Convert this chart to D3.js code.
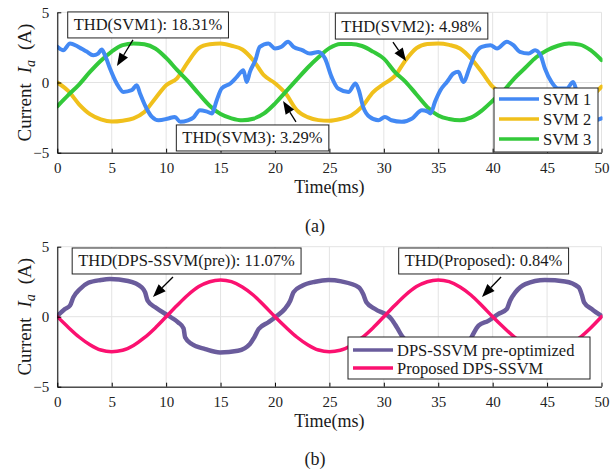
<!DOCTYPE html>
<html><head><meta charset="utf-8">
<script src="https://cdn.jsdelivr.net/npm/d3@7"></script>
<style>
body{margin:0;background:#fff;}
text{font-family:"Liberation Serif","Times New Roman",serif;fill:#1a1a1a;}
</style></head>
<body>
<script>
// ---------------- DATA ----------------
const xTicks = [0,5,10,15,20,25,30,35,40,45,50];
const yTicks = [-5,0,5];
const xLabel = "Time(ms)";

// (a) SVM 1 (distorted) : time (ms) and current (A)
const timeSVM1 = [0,0.55,1.17,1.8,2.24,2.7,3.3,3.75,4.08,4.38,4.84,5.46,6.07,6.84,7.3,7.6,8.2,8.7,9.3,10.2,10.8,11.3,12.0,12.5,13.1,13.7,14.2,14.65,15.1,15.9,16.5,17.1,17.4,17.7,18.2,18.6,19.4,20.0,20.6,21.2,21.7,22.5,23.2,24.0,24.6,25.2,25.8,26.75,27.4,27.7,28.1,28.7,29.5,30.1,30.7,31.65,32.6,33.5,34.0,34.3,34.7,35.2,35.8,36.4,36.85,37.3,37.9,38.4,39.0,39.8,40.4,41.3,41.9,42.5,43.3,43.9,44.4,44.8,45.4,46.0,46.8,47.4,47.7,48.2,48.8,49.4,50];
const curSVM1 = [2.55,2.3,2.78,2.6,2.4,2.2,1.94,2.06,2.35,1.94,1.0,-0.07,-0.67,-0.55,-0.19,-0.78,-1.85,-2.45,-2.69,-2.56,-2.45,-2.8,-2.69,-2.5,-1.97,-2.06,-2.2,-1.26,-0.43,-0.07,0.4,0.88,0.04,0.76,1.59,2.54,2.78,2.42,2.54,2.9,2.54,2.3,2.06,2.18,1.71,0.4,-0.43,-0.67,-0.07,-0.55,-1.73,-2.45,-2.69,-2.45,-2.69,-2.8,-2.56,-1.97,-2.06,-2.2,-1.38,-0.55,0.04,0.64,0.76,0.04,1.11,2.06,2.54,2.66,2.42,2.9,2.66,2.18,2.06,2.3,1.94,1.0,0.04,-0.43,-0.43,0.04,-0.6,-1.8,-2.45,-2.7,-2.56];

// (a) SVM 2 and SVM 3 sampled every 1 ms
const timeSVM23 = [0,1,2,3,4,5,6,7,8,9,10,11,12,13,14,15,16,17,18,19,20,21,22,23,24,25,26,27,28,29,30,31,32,33,34,35,36,37,38,39,40,41,42,43,44,45,46,47,48,49,50];
const curSVM2 = [0.0,-0.6,-1.55,-2.25,-2.62,-2.78,-2.72,-2.55,-2.1,-1.14,-0.2,0.3,1.45,2.45,2.72,2.78,2.62,2.35,1.59,0.5,-0.05,-0.8,-1.97,-2.47,-2.68,-2.72,-2.6,-2.35,-1.72,-0.7,-0.1,0.45,1.59,2.45,2.75,2.78,2.68,2.42,1.72,0.75,-0.3,-0.85,-1.95,-2.45,-2.68,-2.75,-2.65,-2.45,-1.95,-1.1,-0.3];
const curSVM3 = [-1.7,-0.9,-0.15,0.75,1.55,2.2,2.66,2.78,2.72,2.42,1.75,0.9,0.1,-0.8,-1.65,-2.25,-2.55,-2.69,-2.58,-2.2,-1.5,-0.65,0.2,1.05,1.8,2.45,2.75,2.75,2.6,2.2,1.7,0.76,0.05,-0.85,-1.75,-2.35,-2.6,-2.69,-2.5,-2.0,-1.3,-0.6,0.3,1.05,1.8,2.3,2.62,2.78,2.7,2.3,1.6];

// (b) DPS-SSVM pre-optimized
const timePre = [0,0.7,1.17,1.47,2.09,2.85,4.0,4.84,6.5,7.76,8.06,8.3,9.0,10.2,11.1,11.6,11.74,12.35,13.6,14.95,16.6,17.7,18.1,18.5,19.4,20.2,20.9,21.4,21.7,22.5,23.7,24.9,26.1,27.7,28.1,28.4,29.2,30.7,31.2,31.7,32.4,33.6,35.0,36.6,37.7,38.1,38.7,39.6,40.5,41.3,41.6,42.1,43.0,44.8,46.65,47.9,48.2,48.4,49.1,50];
const curPre = [0.05,0.55,0.8,1.38,1.98,2.42,2.62,2.69,2.55,2.1,1.75,1.14,0.67,0.07,-0.4,-0.83,-1.47,-1.95,-2.31,-2.55,-2.43,-1.95,-1.47,-0.88,-0.4,0.07,0.55,1.14,1.75,2.21,2.5,2.62,2.52,2.1,1.62,1.03,0.55,-0.17,-0.76,-1.42,-1.95,-2.31,-2.55,-2.43,-1.95,-1.4,-0.64,-0.3,0.19,0.55,1.14,1.75,2.33,2.62,2.52,2.1,1.55,1.03,0.55,0.05];

// (b) Proposed DPS-SSVM, every 1 ms
const timeProp = [0,1,2,3,4,5,6,7,8,9,10,11,12,13,14,15,16,17,18,19,20,21,22,23,24,25,26,27,28,29,30,31,32,33,34,35,36,37,38,39,40,41,42,43,44,45,46,47,48,49,50];
const curProp = [0,-0.75,-1.45,-2.0,-2.38,-2.5,-2.4,-2.05,-1.5,-0.8,0.0,0.8,1.55,2.15,2.5,2.62,2.5,2.12,1.55,0.8,0.0,-0.75,-1.45,-2.0,-2.38,-2.5,-2.4,-2.05,-1.5,-0.8,0.0,0.8,1.55,2.15,2.5,2.62,2.5,2.12,1.55,0.8,0.0,-0.75,-1.45,-2.0,-2.38,-2.5,-2.4,-2.05,-1.5,-0.8,0.0];

const seriesA = ["SVM 1","SVM 2","SVM 3"];
const seriesB = ["DPS-SSVM pre-optimized","Proposed DPS-SSVM"];

// annotation texts with box centre / arrow tail / arrow head in data units
const annA = [
  {text:"THD(SVM1): 18.31%", bx:8.33, by:4.10, tx:6.95, ty:3.03, hx:5.48, hy:1.17},
  {text:"THD(SVM2): 4.98%",  bx:32.54, by:4.02, tx:30.84, ty:2.88, hx:32.04, hy:1.53},
  {text:"THD(SVM3): 3.29%",  bx:17.93, by:-3.95, tx:21.93, ty:-2.81, hx:20.74, hy:-1.32}
];
const annB = [
  {text:"THD(DPS-SSVM(pre)): 11.07%", bx:11.87, by:3.98, tx:10.63, ty:2.84, hx:8.79, hy:1.41},
  {text:"THD(Proposed): 0.84%",       bx:39.16, by:3.98, tx:40.77, ty:2.84, hx:39.02, hy:1.41}
];

// ---------------- DRAW ----------------
const W = 610, H = 471;
const FONT = '"Liberation Serif","Times New Roman",serif';
const svg = d3.select("body").append("svg").attr("width",W).attr("height",H);

const colors = {
  "SVM 1":"#4389f4", "SVM 2":"#f0c01c", "SVM 3":"#33c93a",
  "DPS-SSVM pre-optimized":"#6a5c9c", "Proposed DPS-SSVM":"#fb1170"
};

function panel(top, bottom, lines, anns, legend, subLabel, subY){
  const x = d3.scaleLinear().domain([0,50]).range([57.3,601.5]);
  const y = d3.scaleLinear().domain([-5,5]).range([bottom,top]);
  const g = svg.append("g");

  // grid
  g.append("g").selectAll("line").data(xTicks).join("line")
    .attr("x1",d=>x(d)).attr("x2",d=>x(d)).attr("y1",top).attr("y2",bottom)
    .attr("stroke","#e3e3e3").attr("stroke-width",1);
  g.append("g").selectAll("line").data(yTicks).join("line")
    .attr("x1",x(0)).attr("x2",x(50)).attr("y1",d=>y(d)).attr("y2",d=>y(d))
    .attr("stroke","#e3e3e3").attr("stroke-width",1);

  // lines
  const clipId = "clip"+Math.round(top);
  svg.append("clipPath").attr("id",clipId).append("rect")
    .attr("x",x(0)).attr("y",top).attr("width",x(50)-x(0)+1).attr("height",bottom-top);
  const lg = g.append("g").attr("clip-path",`url(#${clipId})`);
  lines.forEach(s=>{
    const pts = s.t.map((t,i)=>[t,s.v[i]]);
    lg.append("path").datum(pts)
      .attr("fill","none").attr("stroke",s.color).attr("stroke-width",s.w)
      .attr("stroke-linejoin","round").attr("stroke-linecap","round")
      .attr("d",d3.line().x(d=>x(d[0])).y(d=>y(d[1])).curve(d3.curveMonotoneX));
  });

  // axes
  const xa = g.append("g").attr("transform",`translate(0,${bottom})`)
    .call(d3.axisBottom(x).tickValues(xTicks).tickSizeInner(-4).tickSizeOuter(0).tickPadding(10));
  xa.attr("font-family",null);
  xa.select(".domain").attr("stroke","#000");
  xa.selectAll(".tick line").attr("stroke","#000");
  xa.selectAll("text").style("font-family",FONT).style("font-size","15px").style("fill","#222");
  const ya = g.append("g").attr("transform",`translate(${x(0)},0)`)
    .call(d3.axisLeft(y).tickValues(yTicks).tickSizeInner(-4).tickSizeOuter(0).tickPadding(8));
  ya.attr("font-family",null);
  ya.select(".domain").attr("stroke","#000");
  ya.selectAll(".tick line").attr("stroke","#000");
  ya.selectAll("text").style("font-family",FONT).style("font-size","15px").style("fill","#222");

  // axis labels
  g.append("text").attr("x",(x(0)+x(50))/2).attr("y",bottom+40)
    .attr("text-anchor","middle").attr("font-size",18).text(xLabel);
  const yl = g.append("text").attr("transform",`translate(31,${(top+bottom)/2}) rotate(-90)`)
    .attr("text-anchor","middle").attr("font-size",19);
  yl.append("tspan").text("Current");
  yl.append("tspan").attr("dx",10).attr("font-style","italic").text("I");
  yl.append("tspan").attr("font-style","italic").attr("font-size",14).attr("dy",4).text("a");
  yl.append("tspan").attr("dx",10).attr("dy",-4).text("(A)");

  // legend
  const lgG = g.append("g");
  lgG.append("rect").attr("x",legend.x0).attr("y",legend.y0)
    .attr("width",legend.x1-legend.x0).attr("height",legend.y1-legend.y0)
    .attr("fill","#fff").attr("stroke","#222").attr("stroke-width",1);
  legend.items.forEach((name,i)=>{
    const yy = legend.y0 + legend.first + i*legend.step;
    lgG.append("line").attr("x1",legend.x0+5).attr("x2",legend.x0+45)
      .attr("y1",yy).attr("y2",yy).attr("stroke",colors[name]).attr("stroke-width",legend.w);
    lgG.append("text").attr("x",legend.x0+49).attr("y",yy+5.5)
      .attr("font-size",legend.fs).text(name);
  });

  // annotations
  anns.forEach(a=>{
    const ag = g.append("g");
    const t = ag.append("text").attr("x",x(a.bx)).attr("y",y(a.by)+5.5)
      .attr("text-anchor","middle").attr("font-size",16.5).text(a.text);
    const bb = t.node().getBBox();
    ag.insert("rect","text").attr("x",bb.x-6).attr("y",y(a.by)-13)
      .attr("width",bb.width+12).attr("height",26)
      .attr("fill","#fff").attr("stroke","#222").attr("stroke-width",1);
    const x1=x(a.tx), y1=y(a.ty), x2=x(a.hx), y2=y(a.hy);
    const dx=x2-x1, dy=y2-y1, L=Math.hypot(dx,dy), ux=dx/L, uy=dy/L;
    const hl=13, hw=5;
    const bx=x2-ux*hl, by=y2-uy*hl;
    ag.append("line").attr("x1",x1).attr("y1",y1).attr("x2",bx).attr("y2",by)
      .attr("stroke","#000").attr("stroke-width",1.3);
    ag.append("path").attr("d",`M${x2},${y2}L${bx-uy*hw},${by+ux*hw}L${bx+uy*hw},${by-ux*hw}Z`)
      .attr("fill","#000");
  });

  svg.append("text").attr("x",315).attr("y",subY).attr("text-anchor","middle")
    .attr("font-size",18).text(subLabel);
}

panel(12.3,152.7,
  [
    {t:timeSVM23, v:curSVM2, color:colors["SVM 2"], w:4},
    {t:timeSVM23, v:curSVM3, color:colors["SVM 3"], w:4},
    {t:timeSVM1, v:curSVM1, color:colors["SVM 1"], w:4}
  ],
  annA,
  {x0:494, x1:598, y0:88, y1:152, first:11, step:20, items:seriesA, w:3.5, fs:16.5},
  "(a)", 232);

panel(246.7,386.7,
  [
    {t:timePre, v:curPre, color:colors["DPS-SSVM pre-optimized"], w:4.5},
    {t:timeProp, v:curProp, color:colors["Proposed DPS-SSVM"], w:3.5}
  ],
  annB,
  {x0:348, x1:590, y0:337, y1:379, first:13, step:18, items:seriesB, w:3.5, fs:16.5},
  "(b)", 465);
</script>
</body></html>
